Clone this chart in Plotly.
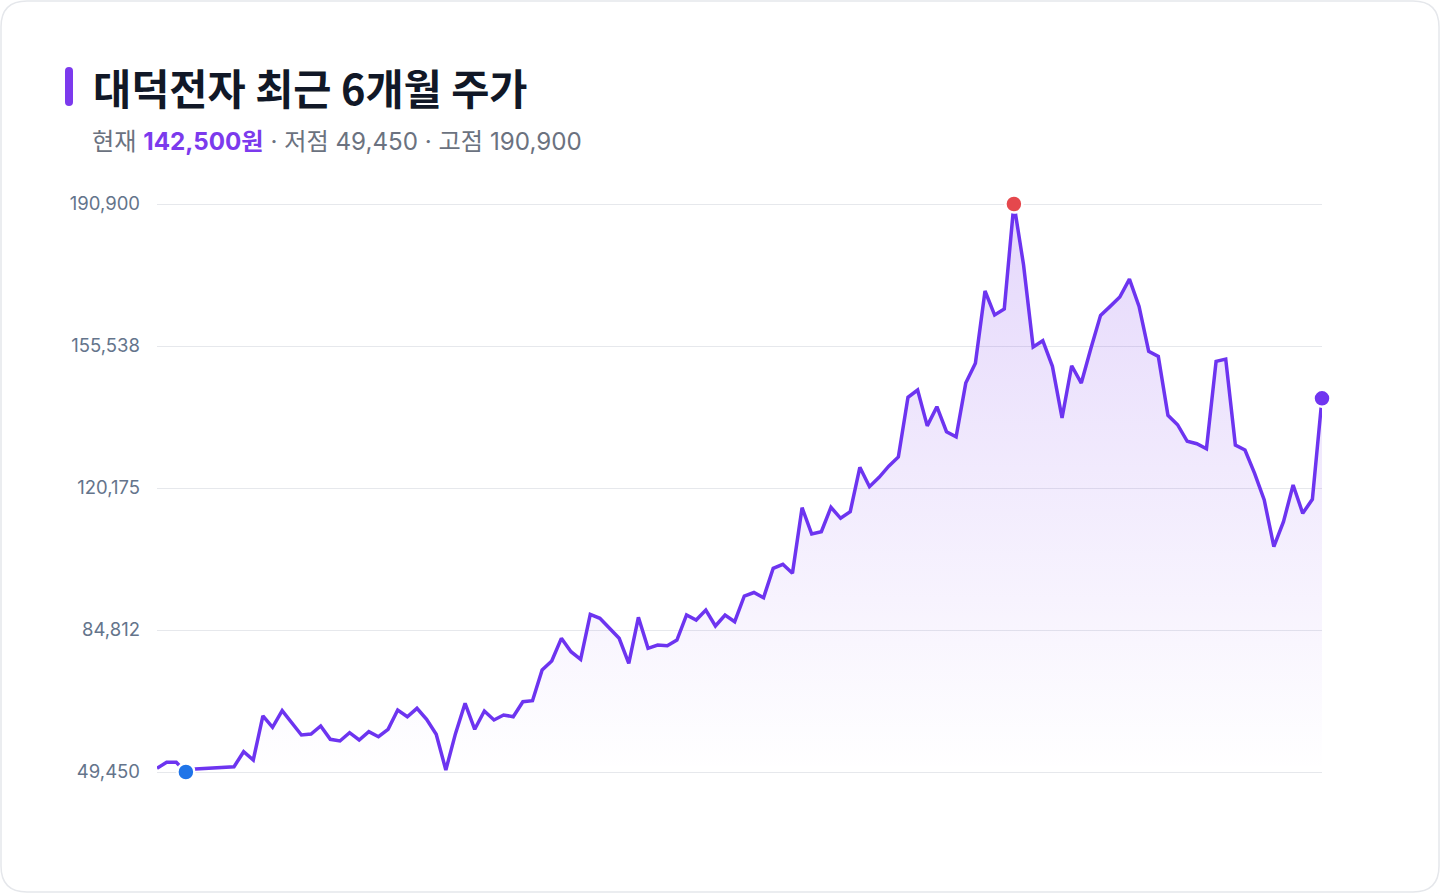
import plotly.graph_objects as go

# 대덕전자 daily close, last 6 months
prices = [
    50370, 51860, 51860, 49450, 50200, 50370, 50450, 50520, 50770, 54500,
    52440, 63400, 60580, 64720, 61730, 58660, 58910, 60900, 57590, 57170,
    59240, 57420, 59490, 58240, 60080, 64890, 63220, 65310, 62570, 58840,
    49950, 59000, 66560, 60080, 64640, 62400, 63640, 63220, 66960, 67210,
    74850, 77090, 82740, 79410, 77510, 88720, 87720, 85230, 82740, 76520,
    87970, 80250, 81080, 80900, 82320, 88550, 87300, 89790, 85810, 88550,
    86880, 93280, 94150, 92860, 100180, 101170, 98930, 115270, 108720, 109300,
    115370, 112630, 114270, 125330, 120500, 122840, 125600, 127900, 142760, 144580,
    135650, 140420, 134200, 132900, 146300, 151220, 169230, 163250, 164750, 190900,
    175780, 155280, 156860, 150480, 137600, 150620, 146310, 154990, 163170, 165410,
    167730, 172210, 165410, 154210, 152960, 138270, 135930, 131800, 131200, 129950,
    151720, 152290, 130880, 129640, 123830, 117190, 105560, 111780, 120920, 113870,
    117360, 142500,
]
days = list(range(len(prices)))

tick_vals = [49450, 84812, 120175, 155538, 190900]
tick_text = ["49,450", "84,812", "120,175", "155,538", "190,900"]

title = "대덕전자 최근 6개월 주가"

lo, hi = min(prices), max(prices)
i_lo, i_hi = prices.index(lo), prices.index(hi)
last = prices[-1]

PURPLE = "#6d34f0"
W, H = 1440, 893
L, R = 157, 1322          # plot area x in px
Y_HI, Y_LO = 204, 772     # px of hi / lo gridlines
PAD = 10                  # px of slack above/below
per_px = (hi - lo) / (Y_LO - Y_HI)
top_px, bot_px = Y_HI - PAD, Y_LO + PAD

FONT = "Inter, 'Noto Sans CJK KR', sans-serif"
KFONT = "'Noto Sans CJK KR', Inter, sans-serif"


def px_x(x):
    return (x - L) / (R - L)


def px_y(y):
    return (bot_px - y) / (bot_px - top_px)


def round_rect(x0, y0, x1, y1, r):
    # rounded rectangle path in paper coords, built from pixel coords
    pts = [
        f"M {px_x(x0 + r)},{px_y(y0)}",
        f"L {px_x(x1 - r)},{px_y(y0)}",
        f"Q {px_x(x1)},{px_y(y0)} {px_x(x1)},{px_y(y0 + r)}",
        f"L {px_x(x1)},{px_y(y1 - r)}",
        f"Q {px_x(x1)},{px_y(y1)} {px_x(x1 - r)},{px_y(y1)}",
        f"L {px_x(x0 + r)},{px_y(y1)}",
        f"Q {px_x(x0)},{px_y(y1)} {px_x(x0)},{px_y(y1 - r)}",
        f"L {px_x(x0)},{px_y(y0 + r)}",
        f"Q {px_x(x0)},{px_y(y0)} {px_x(x0 + r)},{px_y(y0)}",
        "Z",
    ]
    return " ".join(pts)


fig = go.Figure()

# baseline for the area fill
fig.add_trace(go.Scatter(x=days, y=[lo] * len(days), mode="lines",
                         line=dict(width=0), hoverinfo="skip", showlegend=False))
fig.add_trace(go.Scatter(
    x=days, y=prices, mode="lines",
    line=dict(color=PURPLE, width=3.5),
    fill="tonexty",
    fillgradient=dict(type="vertical",
                      colorscale=[[0, "rgba(124,58,237,0.0)"], [1, "rgba(124,58,237,0.2)"]]),
    showlegend=False,
))

# min / max / current markers
for idx, col in [(i_lo, "#1f74e8"), (i_hi, "#e5484d"), (len(prices) - 1, "#7035f0")]:
    fig.add_trace(go.Scatter(
        x=[days[idx]], y=[prices[idx]], mode="markers", cliponaxis=False,
        marker=dict(size=17, color=col, line=dict(color="white", width=2.5)),
        showlegend=False,
    ))

fig.update_xaxes(range=[days[0], days[-1]], visible=False, showgrid=False)
fig.update_yaxes(
    range=[lo - PAD * per_px, hi + PAD * per_px],
    tickvals=tick_vals, ticktext=tick_text,
    showgrid=True, gridcolor="#e6e8ec", gridwidth=1,
    zeroline=False, showline=False, ticks="",
    ticklabelstandoff=16,
    tickfont=dict(family=FONT, size=18.5, color="#64748b"),
)

sub = (f"현재 <b><span style='color:#7c3aed'>{last:,}원</span></b>"
       f" · 저점 {lo:,} · 고점 {hi:,}")

fig.update_layout(
    width=W, height=H,
    margin=dict(l=L, r=W - R, t=top_px, b=H - bot_px),
    paper_bgcolor="white", plot_bgcolor="white",
    shapes=[
        dict(type="path", xref="paper", yref="paper",
             path=round_rect(1, 1, W - 1, H - 1, 26),
             line=dict(color="#e5e7eb", width=1.5), fillcolor="rgba(0,0,0,0)", layer="below"),
        dict(type="path", xref="paper", yref="paper",
             path=round_rect(65, 67, 73, 106, 4),
             line=dict(width=0), fillcolor="#7c3aed"),
    ],
    annotations=[
        dict(text=f"<b>{title}</b>", xref="paper", yref="paper",
             x=px_x(91), y=px_y(87), xanchor="left", yanchor="middle", showarrow=False,
             font=dict(family=KFONT, size=41.5, color="#111827", weight=900)),
        dict(text=sub, xref="paper", yref="paper",
             x=px_x(90), y=px_y(142), xanchor="left", yanchor="middle", showarrow=False,
             font=dict(family=FONT, size=24.2, color="#6b7280")),
    ],
)

# drop the default 8px body margin so the card fills the window
fig.write_html("out.html", config={"displayModeBar": False},
               post_script="document.body.style.margin='0';")
